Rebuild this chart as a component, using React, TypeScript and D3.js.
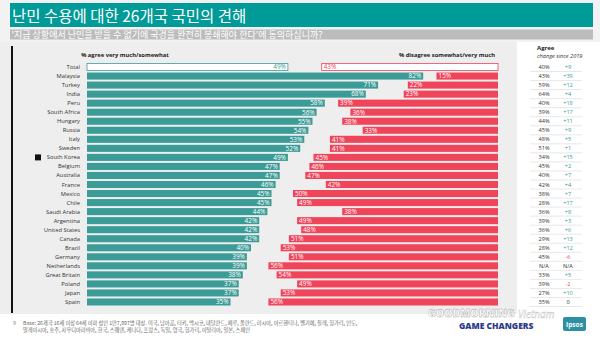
import React from "react";
import * as d3 from "d3";

const countries = ["Total","Malaysia","Turkey","India","Peru","South Africa","Hungary","Russia","Italy","Sweden","South Korea","Belgium","Australia","France","Mexico","Chile","Saudi Arabia","Argentina","United States","Canada","Brazil","Germany","Netherlands","Great Britain","Poland","Japan","Spain"];
const agree = [49,82,71,68,58,56,55,54,53,52,49,47,47,46,45,45,44,42,42,42,40,39,39,38,37,37,35];
const disagree = [43,15,22,23,39,36,38,33,41,41,45,46,47,42,50,49,38,49,48,51,53,51,56,54,49,53,56];
const agree2019 = ["40%","43%","59%","64%","40%","39%","44%","45%","48%","51%","34%","45%","40%","42%","38%","28%","36%","39%","36%","29%","28%","45%","N/A","33%","39%","27%","35%"];
const change = ["+9","+39","+12","+4","+18","+17","+11","+9","+5","+1","+15","+2","+7","+4","+7","+17","+8","+3","+6","+13","+12","-6","N/A","+5","-2","+10","0"];

const TEAL = "#3a9b97";
const RED = "#f0445a";
const FONT = "'Open Sans', 'Noto Sans', sans-serif";
const KFONT = "'Noto Sans CJK KR', sans-serif";

export default function App() {
  const W = 600, H = 342;
  const x = d3.scaleLinear().domain([0, 100]).range([0, 410]);
  const y = d3.scaleBand<string>().domain(countries).range([62.5, 306.5]).paddingInner(0.22).paddingOuter(0.11);
  const bh = y.bandwidth();
  const tealX0 = 87;
  const redX1 = 498;

  const changeColor = (c: string) => c.startsWith("+") ? TEAL : c.startsWith("-") ? RED : "#333";

  return (
    <div style={{ position: "absolute", left: 0, top: 0, width: W, height: H, overflow: "hidden" }}>
      <svg width={W} height={H} style={{ display: "block" }}>
        <rect x={0} y={0} width={W} height={H} fill="#ffffff" />
        <rect x={0} y={0} width={W} height={42} fill="#f2f2f2" />
        <rect x={0} y={42} width={517} height={272} fill="#eeeeee" />
        {/* title */}
        <rect x={10} y={3} width={583} height={24} fill="#009b98" />
        <text x={12} y={21.5} fill="#fff" fontFamily={KFONT} fontSize={15.5}>난민 수용에 대한 26개국 국민의 견해</text>
        <rect x={10} y={29.5} width={583} height={10} fill="#bcbcbc" />
        <text x={11.5} y={38} fill="#fff" fontFamily={KFONT} fontSize={9}>'지금 상황에서 난민을 받을 수 없기에 국경을 완전히 봉쇄해야 한다'에 동의하십니까?</text>
        {/* left border */}
        <rect x={11} y={46} width={2} height={267} fill="#111" />
        {/* headers */}
        <text x={125} y={57} textAnchor="middle" fontFamily={FONT} fontSize={5.8} fontWeight={700} fill="#222">% agree very much/somewhat</text>
        <text x={495} y={57} textAnchor="end" fontFamily={FONT} fontSize={5.8} fontWeight={700} fill="#222">% disagree somewhat/very much</text>
        <text x={537} y={50} fontFamily={FONT} fontSize={6} fontWeight={700} fill="#222">Agree</text>
        <text x={537} y={57.5} fontFamily={FONT} fontSize={5.6} fontStyle="italic" fill="#333">change since 2019</text>
        {countries.map((c, i) => {
          const yy = y(c)!;
          const cy = yy + bh / 2;
          const isTotal = i === 0;
          const aw = x(agree[i]);
          const dw = x(disagree[i]);
          return (
            <g key={c}>
              <text x={80} y={cy + 2} textAnchor="end" fontFamily={FONT} fontSize={5.8} fill="#333">{c}</text>
              {c === "South Korea" && <rect x={35} y={cy - 3} width={6} height={6} fill="#111" />}
              <rect x={tealX0} y={yy} width={aw} height={bh}
                fill={isTotal ? "#fff" : TEAL} stroke={isTotal ? TEAL : "none"} strokeWidth={0.8} />
              <text x={tealX0 + aw - 2} y={cy + 2.3} textAnchor="end" fontFamily={FONT} fontSize={6.4}
                fill={isTotal ? TEAL : "#fff"}>{agree[i]}%</text>
              <rect x={redX1 - dw} y={yy} width={dw} height={bh}
                fill={isTotal ? "#fff" : RED} stroke={isTotal ? RED : "none"} strokeWidth={0.8} />
              <text x={redX1 - dw + 2} y={cy + 2.3} fontFamily={FONT} fontSize={6.4}
                fill={isTotal ? RED : "#fff"}>{disagree[i]}%</text>
              <text x={544} y={cy + 2} textAnchor="middle" fontFamily={FONT} fontSize={5.6} fill="#333">{agree2019[i]}</text>
              <text x={568} y={cy + 2} textAnchor="middle" fontFamily={FONT} fontSize={5.6} fill={changeColor(change[i])}>{change[i]}</text>
              <line x1={530} x2={582} y1={yy + bh + 1} y2={yy + bh + 1} stroke="#d8d8d8" strokeWidth={0.6} />
            </g>
          );
        })}
        {/* footnote */}
        <text x={13} y={325} fontFamily={FONT} fontSize={5.2} fill="#777">9</text>
        <text x={23} y={325} fontFamily={KFONT} fontSize={5.2} fill="#666">Base: 26개국 16세 이상 64세 이하 성인 1만7,997명 대상. 미국, 남아공, 터키, 멕시코, 네덜란드, 페루, 폴란드, 러시아, 아르헨티나, 벨기에, 칠레, 헝가리, 인도,</text>
        <text x={23} y={332} fontFamily={KFONT} fontSize={5.2} fill="#666">말레이시아, 호주, 사우디아라비아, 한국, 스웨덴, 캐나다, 프랑스, 독일, 영국, 헝가리, 이탈리아, 일본, 스페인</text>
        {/* watermark */}
        <text x={428} y={317} fontFamily={FONT} fontSize={10.5} fontWeight={800} fill="#fff" stroke="#999" strokeWidth={0.4} opacity={0.95}>GOODMORNING</text>
        <text x={518} y={318} fontFamily={FONT} fontSize={10} fontStyle="italic" fill="#fff" stroke="#aaa" strokeWidth={0.3} opacity={0.9}>Vietnam</text>
        {/* game changers + logo */}
        <text x={459} y={329} fontFamily={FONT} fontSize={8.5} fontWeight={800} fill="#2b3a8c">GAME CHANGERS</text>
        <rect x={563} y={317} width={23} height={14} rx={2} fill="#2d8fa3" />
        <text x={574.5} y={326.5} textAnchor="middle" fontFamily={FONT} fontSize={6.5} fontWeight={700} fill="#fff">Ipsos</text>
      </svg>
    </div>
  );
}
